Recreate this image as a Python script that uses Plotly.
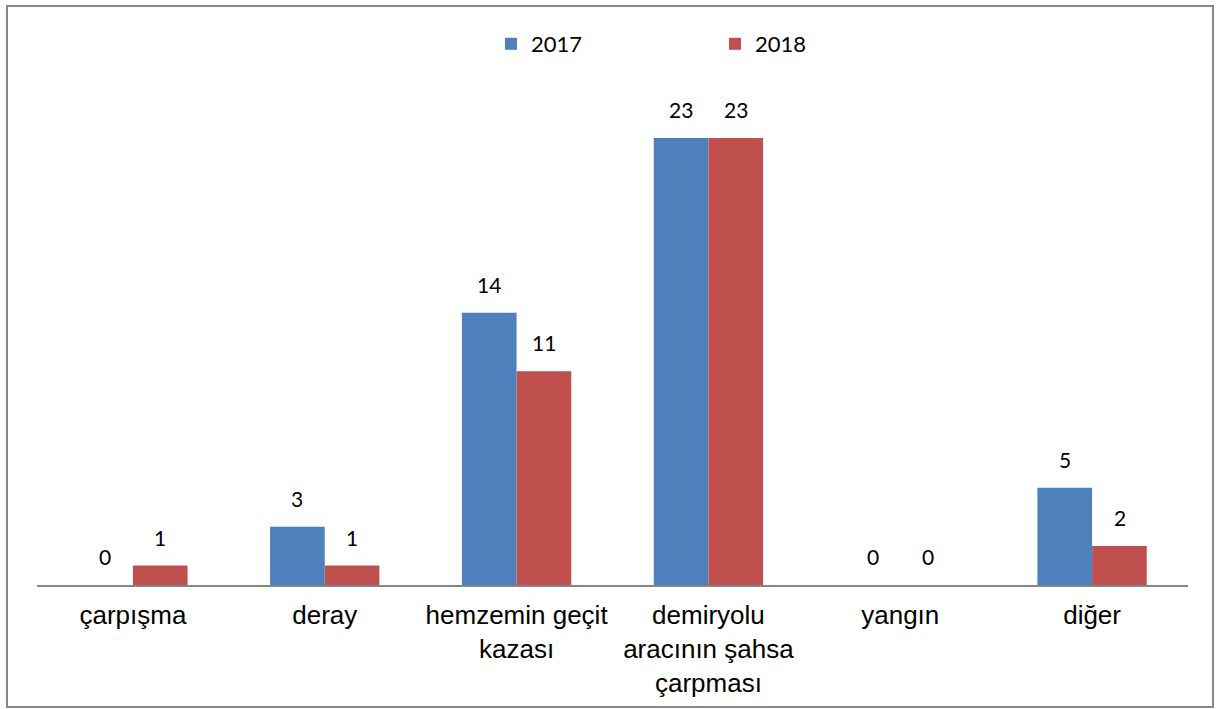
import plotly.graph_objects as go

categories = ["çarpışma", "deray", "hemzemin geçit<br>kazası",
              "demiryolu<br>aracının şahsa<br>çarpması", "yangın", "diğer"]
series_names = ["2017", "2018"]
values_2017 = [0, 3, 14, 23, 0, 5]
values_2018 = [1, 1, 11, 23, 0, 2]

colors = ["#4F81BD", "#C0504D"]
L, R, T, B = 37, 29, 99, 124
W, H = 1217, 709
bar_px = 55

fig = go.Figure()
for name, vals, col in zip(series_names, [values_2017, values_2018], colors):
    fig.add_trace(go.Bar(x=categories, y=vals, name=name, marker_color=col,
                         marker_line_width=0))

annotations = []
for i, vals in enumerate([values_2017, values_2018]):
    shift = -bar_px / 2 if i == 0 else bar_px / 2
    for c, v in zip(categories, vals):
        annotations.append(dict(x=c, y=v, text=str(v), showarrow=False,
                                xshift=shift, yshift=14, yanchor="bottom",
                                font=dict(family="Lato", size=21, color="#000")))

pw = W - L - R
ph = H - T - B
fig.update_layout(
    width=W, height=H,
    margin=dict(l=L, r=R, t=T, b=B),
    paper_bgcolor="white", plot_bgcolor="white",
    barmode="group", bargap=0.43, bargroupgap=0,
    annotations=annotations,
    showlegend=True,
    legend=dict(orientation="h", xref="container", yref="container",
                x=491 / W, y=1 - 44 / H, xanchor="left", yanchor="middle",
                entrywidthmode="pixels", entrywidth=179,
                font=dict(family="Lato", size=22, color="#000"),
                bgcolor="rgba(0,0,0,0)"),
    xaxis=dict(showline=True, linecolor="#868686", linewidth=1.5,
               ticks="", showgrid=False, ticklabelstandoff=6,
               tickfont=dict(family="Liberation Sans", size=26, color="#000")),
    yaxis=dict(range=[0, 25], visible=False, showgrid=False),
    shapes=[dict(type="rect", xref="paper", yref="paper",
                 x0=(7 - L) / pw, x1=(1213 - L) / pw,
                 y0=-(707 - (T + ph)) / ph,
                 y1=1 + (T - 6) / ph,
                 line=dict(color="#878787", width=2), fillcolor="rgba(0,0,0,0)")],
)

fig.write_html("out.html", config={"displayModeBar": False},
               post_script="document.body.style.margin='0';")
